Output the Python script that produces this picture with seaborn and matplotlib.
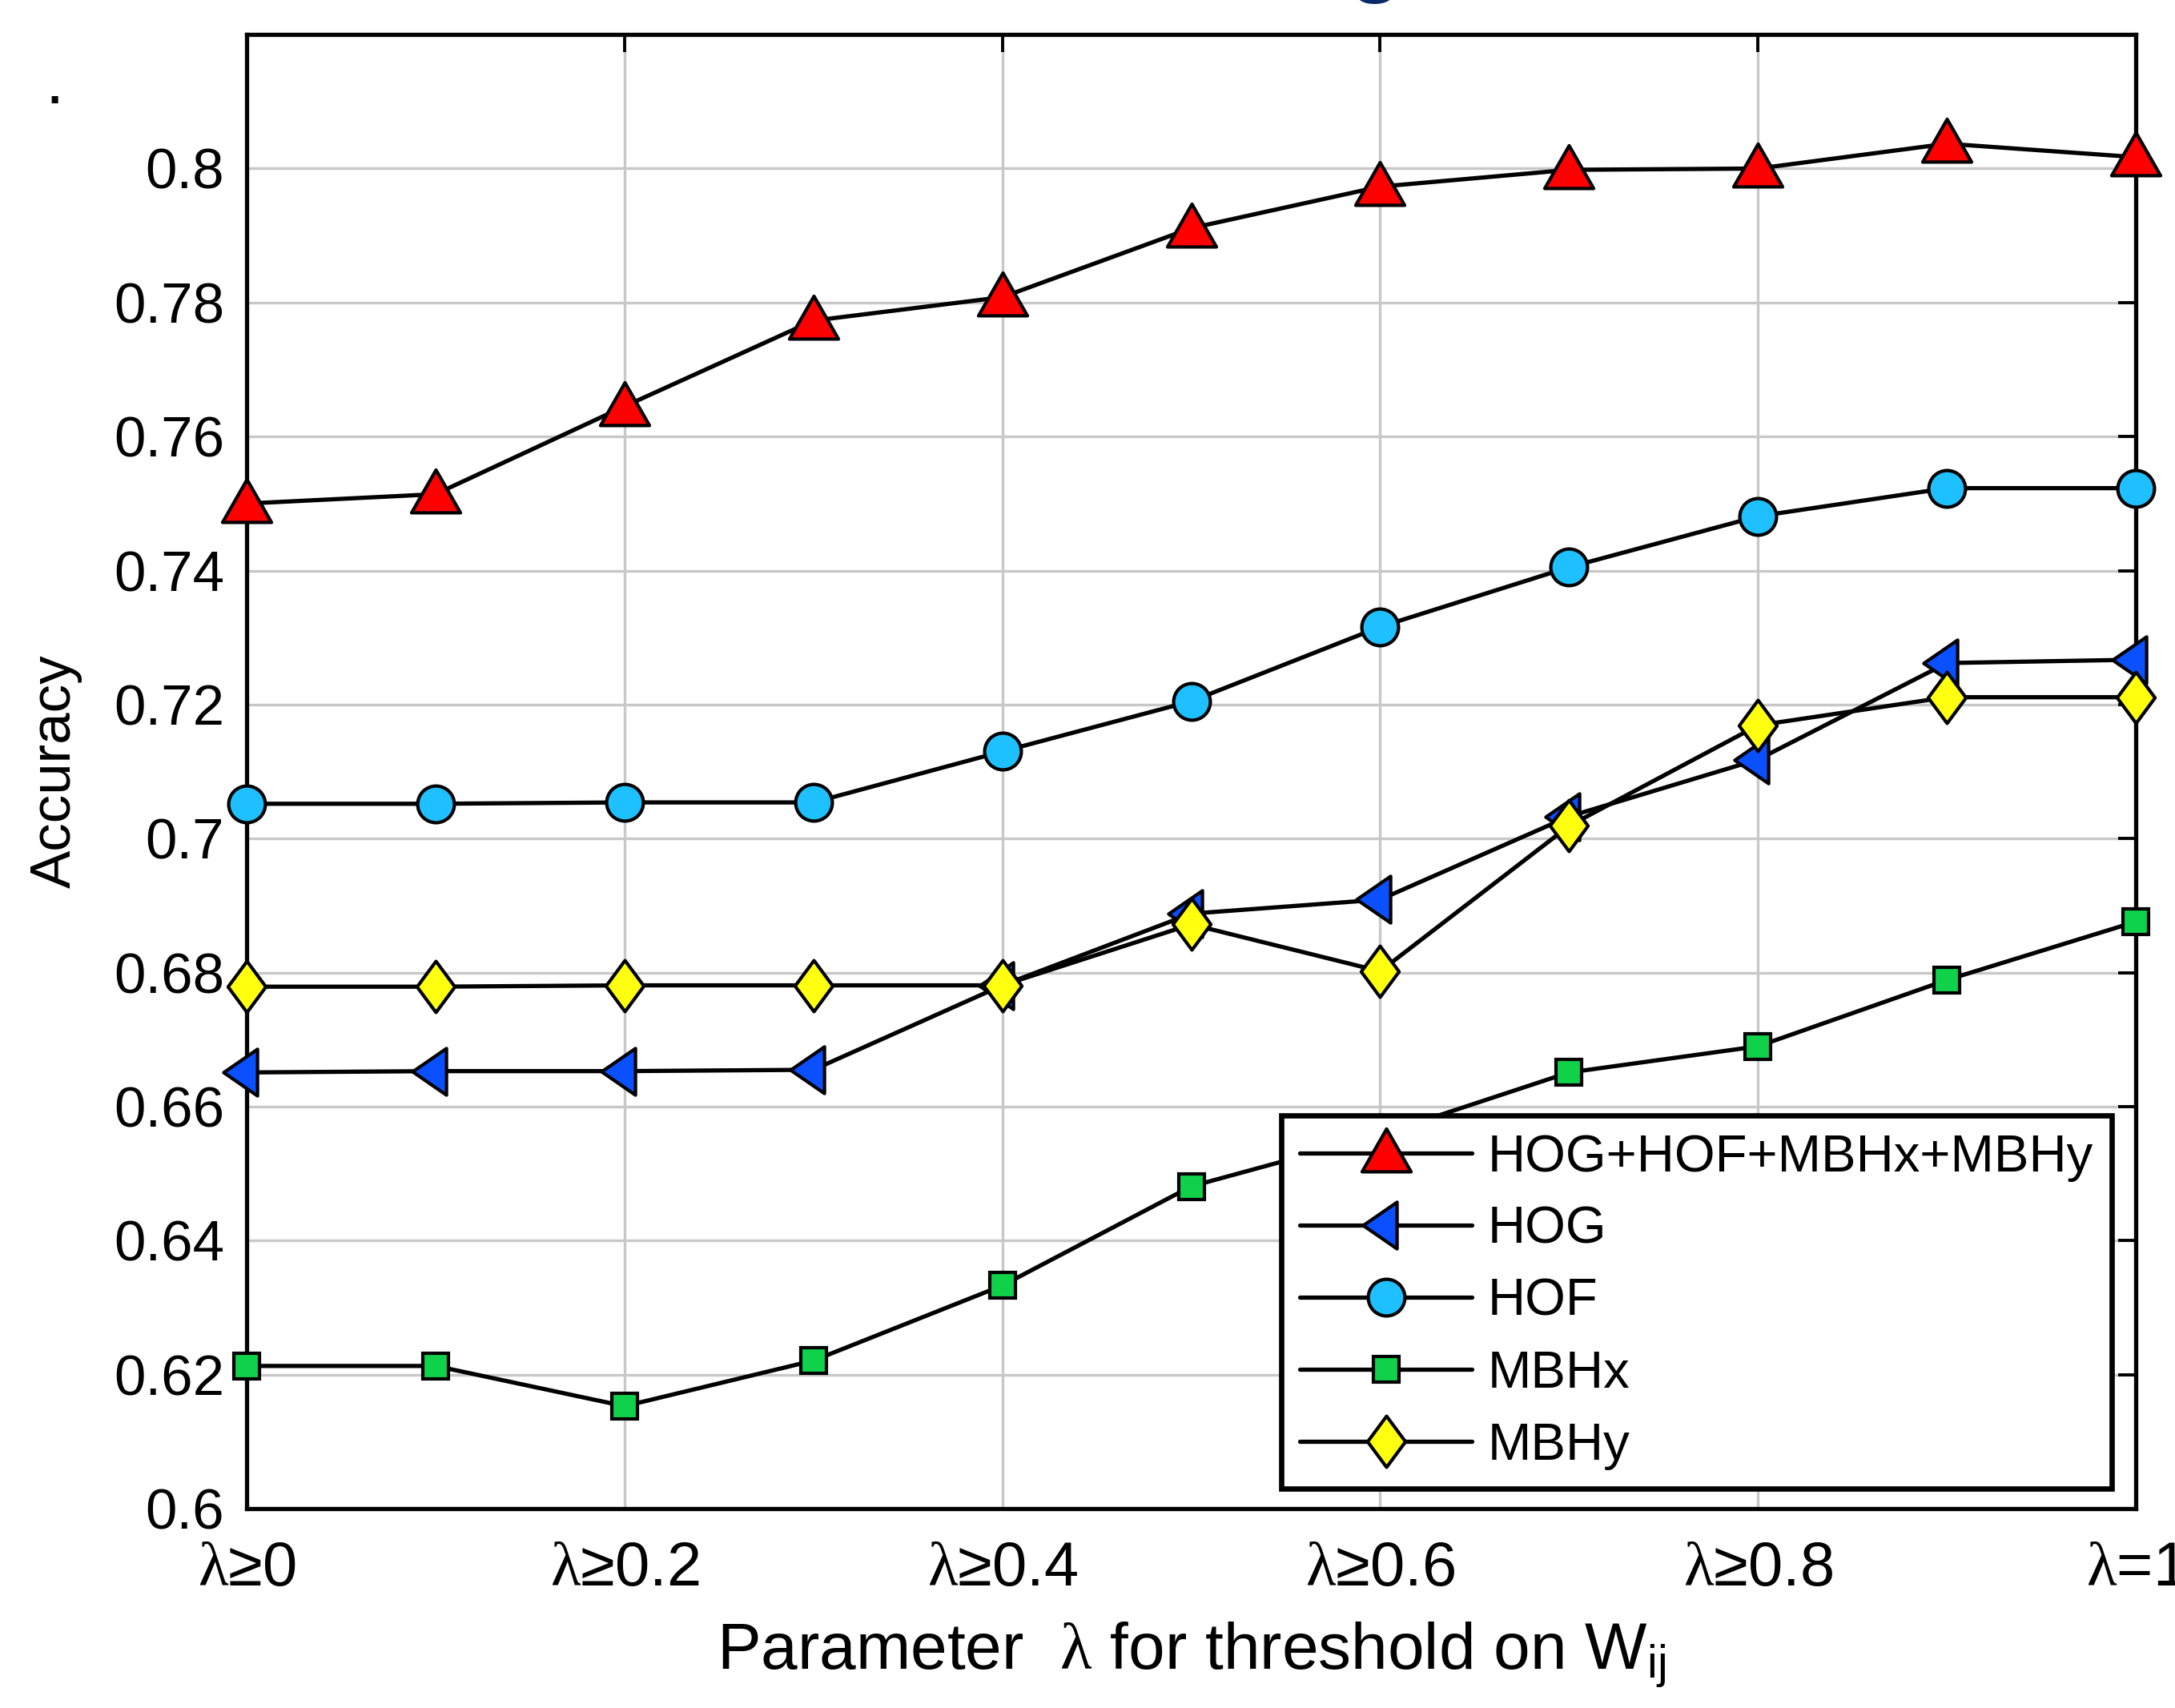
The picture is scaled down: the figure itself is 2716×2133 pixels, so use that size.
import numpy as np
import matplotlib
matplotlib.use('Agg')
import matplotlib.pyplot as plt
import seaborn as sns
from matplotlib.path import Path
from matplotlib.lines import Line2D

# ─── Data ───────────────────────────────────────────────────────────────────
lam = [0.0, 0.1, 0.2, 0.3, 0.4, 0.5, 0.6, 0.7, 0.8, 0.9, 1.0]

acc_all = [0.7500, 0.7514, 0.7645, 0.7773, 0.7808, 0.7911, 0.7973, 0.7998, 0.8000, 0.8037, 0.8017]
acc_hog = [0.6651, 0.6653, 0.6653, 0.6655, 0.6781, 0.6888, 0.6909, 0.7033, 0.7118, 0.7262, 0.7267]
acc_hof = [0.7052, 0.7052, 0.7054, 0.7054, 0.7130, 0.7205, 0.7316, 0.7405, 0.7481, 0.7523, 0.7523]
acc_mbhx = [0.6213, 0.6213, 0.6153, 0.6221, 0.6333, 0.6481, 0.6558, 0.6651, 0.6690, 0.6789, 0.6876]
acc_mbhy = [0.6779, 0.6779, 0.6781, 0.6781, 0.6781, 0.6872, 0.6802, 0.7019, 0.7169, 0.7211, 0.7211]

series_names = ['HOG+HOF+MBHx+MBHy', 'HOG', 'HOF', 'MBHx', 'MBHy']

xtick_pos = [0.0, 0.2, 0.4, 0.6, 0.8, 1.0]
xtick_labels = [r'$\lambda$≥0', r'$\lambda$≥0.2', r'$\lambda$≥0.4',
                r'$\lambda$≥0.6', r'$\lambda$≥0.8', r'$\lambda$=1']
ytick_pos = [0.6, 0.62, 0.64, 0.66, 0.68, 0.7, 0.72, 0.74, 0.76, 0.78, 0.8]
ytick_labels = ['0.6', '0.62', '0.64', '0.66', '0.68', '0.7', '0.72', '0.74', '0.76', '0.78', '0.8']

# ─── Style ──────────────────────────────────────────────────────────────────
sns.set_style('white')
plt.rcParams['font.family'] = ['Liberation Sans', 'DejaVu Sans']
plt.rcParams['mathtext.fontset'] = 'custom'
plt.rcParams['mathtext.rm'] = 'Liberation Sans'
plt.rcParams['mathtext.it'] = 'Liberation Serif'
plt.rcParams['mathtext.default'] = 'it'
plt.rcParams['text.color'] = 'black'
plt.rcParams['axes.labelcolor'] = 'black'


def _path(verts):
    kode = [Path.MOVETO] + [Path.LINETO] * (len(verts) - 2) + [Path.CLOSEPOLY]
    return Path(verts, kode)


segitiga_atas = _path([(0, 1), (1, -0.75), (-1, -0.75), (0, 1)])
segitiga_kiri = _path([(-1, 0), (0.45, 1), (0.45, -1), (-1, 0)])
wajik = _path([(0, 1), (0.74, 0), (0, -1), (-0.74, 0), (0, 1)])

gaya = {
    'HOG+HOF+MBHx+MBHy': dict(marker=segitiga_atas, ms=22, fc='#ff0000'),
    'HOG':               dict(marker=segitiga_kiri, ms=21, fc='#0a50ff'),
    'HOF':               dict(marker='o', ms=16.5, fc='#1ec0ff'),
    'MBHx':              dict(marker='s', ms=11.5, fc='#10d24a'),
    'MBHy':              dict(marker=wajik, ms=23, fc='#ffff10'),
}

fig = plt.figure(figsize=(13.58, 10.665), dpi=200)
ax = fig.add_axes([0.1134, 0.1167, 0.8686, 0.8631])

for nama, nilai in zip(series_names, [acc_all, acc_hog, acc_hof, acc_mbhx, acc_mbhy]):
    g = gaya[nama]
    sns.lineplot(x=lam, y=nilai, ax=ax, color='black', linewidth=1.9,
                 marker=g['marker'], markersize=g['ms'], markerfacecolor=g['fc'],
                 markeredgecolor='black', markeredgewidth=1.5, clip_on=False,
                 label=nama, legend=False, zorder=3)

ax.set_xlim(0, 1)
ax.set_ylim(0.6, 0.82)
ax.set_xticks(xtick_pos)
ax.set_xticklabels(xtick_labels)
ax.set_yticks(ytick_pos)
ax.set_yticklabels(ytick_labels)
ax.grid(True, color='#c8c8c8', linewidth=1.2)
ax.set_axisbelow(True)
ax.tick_params(direction='in', length=8, width=1.4, top=True, right=True,
               labelsize=25.5, colors='black')
ax.tick_params(axis='x', pad=14, labelsize=28)
ax.tick_params(axis='y', pad=10)
for sp in ax.spines.values():
    sp.set_visible(True)
    sp.set_color('black')
    sp.set_linewidth(1.9)

ax.set_ylabel('Accuracy', fontsize=25.5, labelpad=14)
ax.set_xlabel(r'Parameter  $\lambda$ for threshold on W$_{\mathrm{ij}}$', fontsize=29.5, labelpad=10)

# Legend
handles = [Line2D([0], [0], color='black', linewidth=1.9, marker=gaya[n]['marker'],
                  markersize=gaya[n]['ms'], markerfacecolor=gaya[n]['fc'],
                  markeredgecolor='black', markeredgewidth=1.5)
           for n in series_names]
leg = ax.legend(handles, series_names, loc='upper left', bbox_to_anchor=(0.5477, 0.2667),
                borderaxespad=0, fontsize=23.5, frameon=True, fancybox=False,
                handlelength=3.3, handletextpad=0.3, labelspacing=0.46,
                borderpad=0.35, framealpha=1)
leg.get_frame().set_edgecolor('black')
leg.get_frame().set_linewidth(2.4)

# sisa teks di tepi gambar
fig.text(0.6325, 1.022, 'g', color='#0b2a6b', fontsize=40, fontweight='bold',
         ha='center', va='center')
fig.text(0.025, 0.95, '.', color='black', fontsize=30, ha='center', va='center')

fig.savefig('out.png', dpi=200)
